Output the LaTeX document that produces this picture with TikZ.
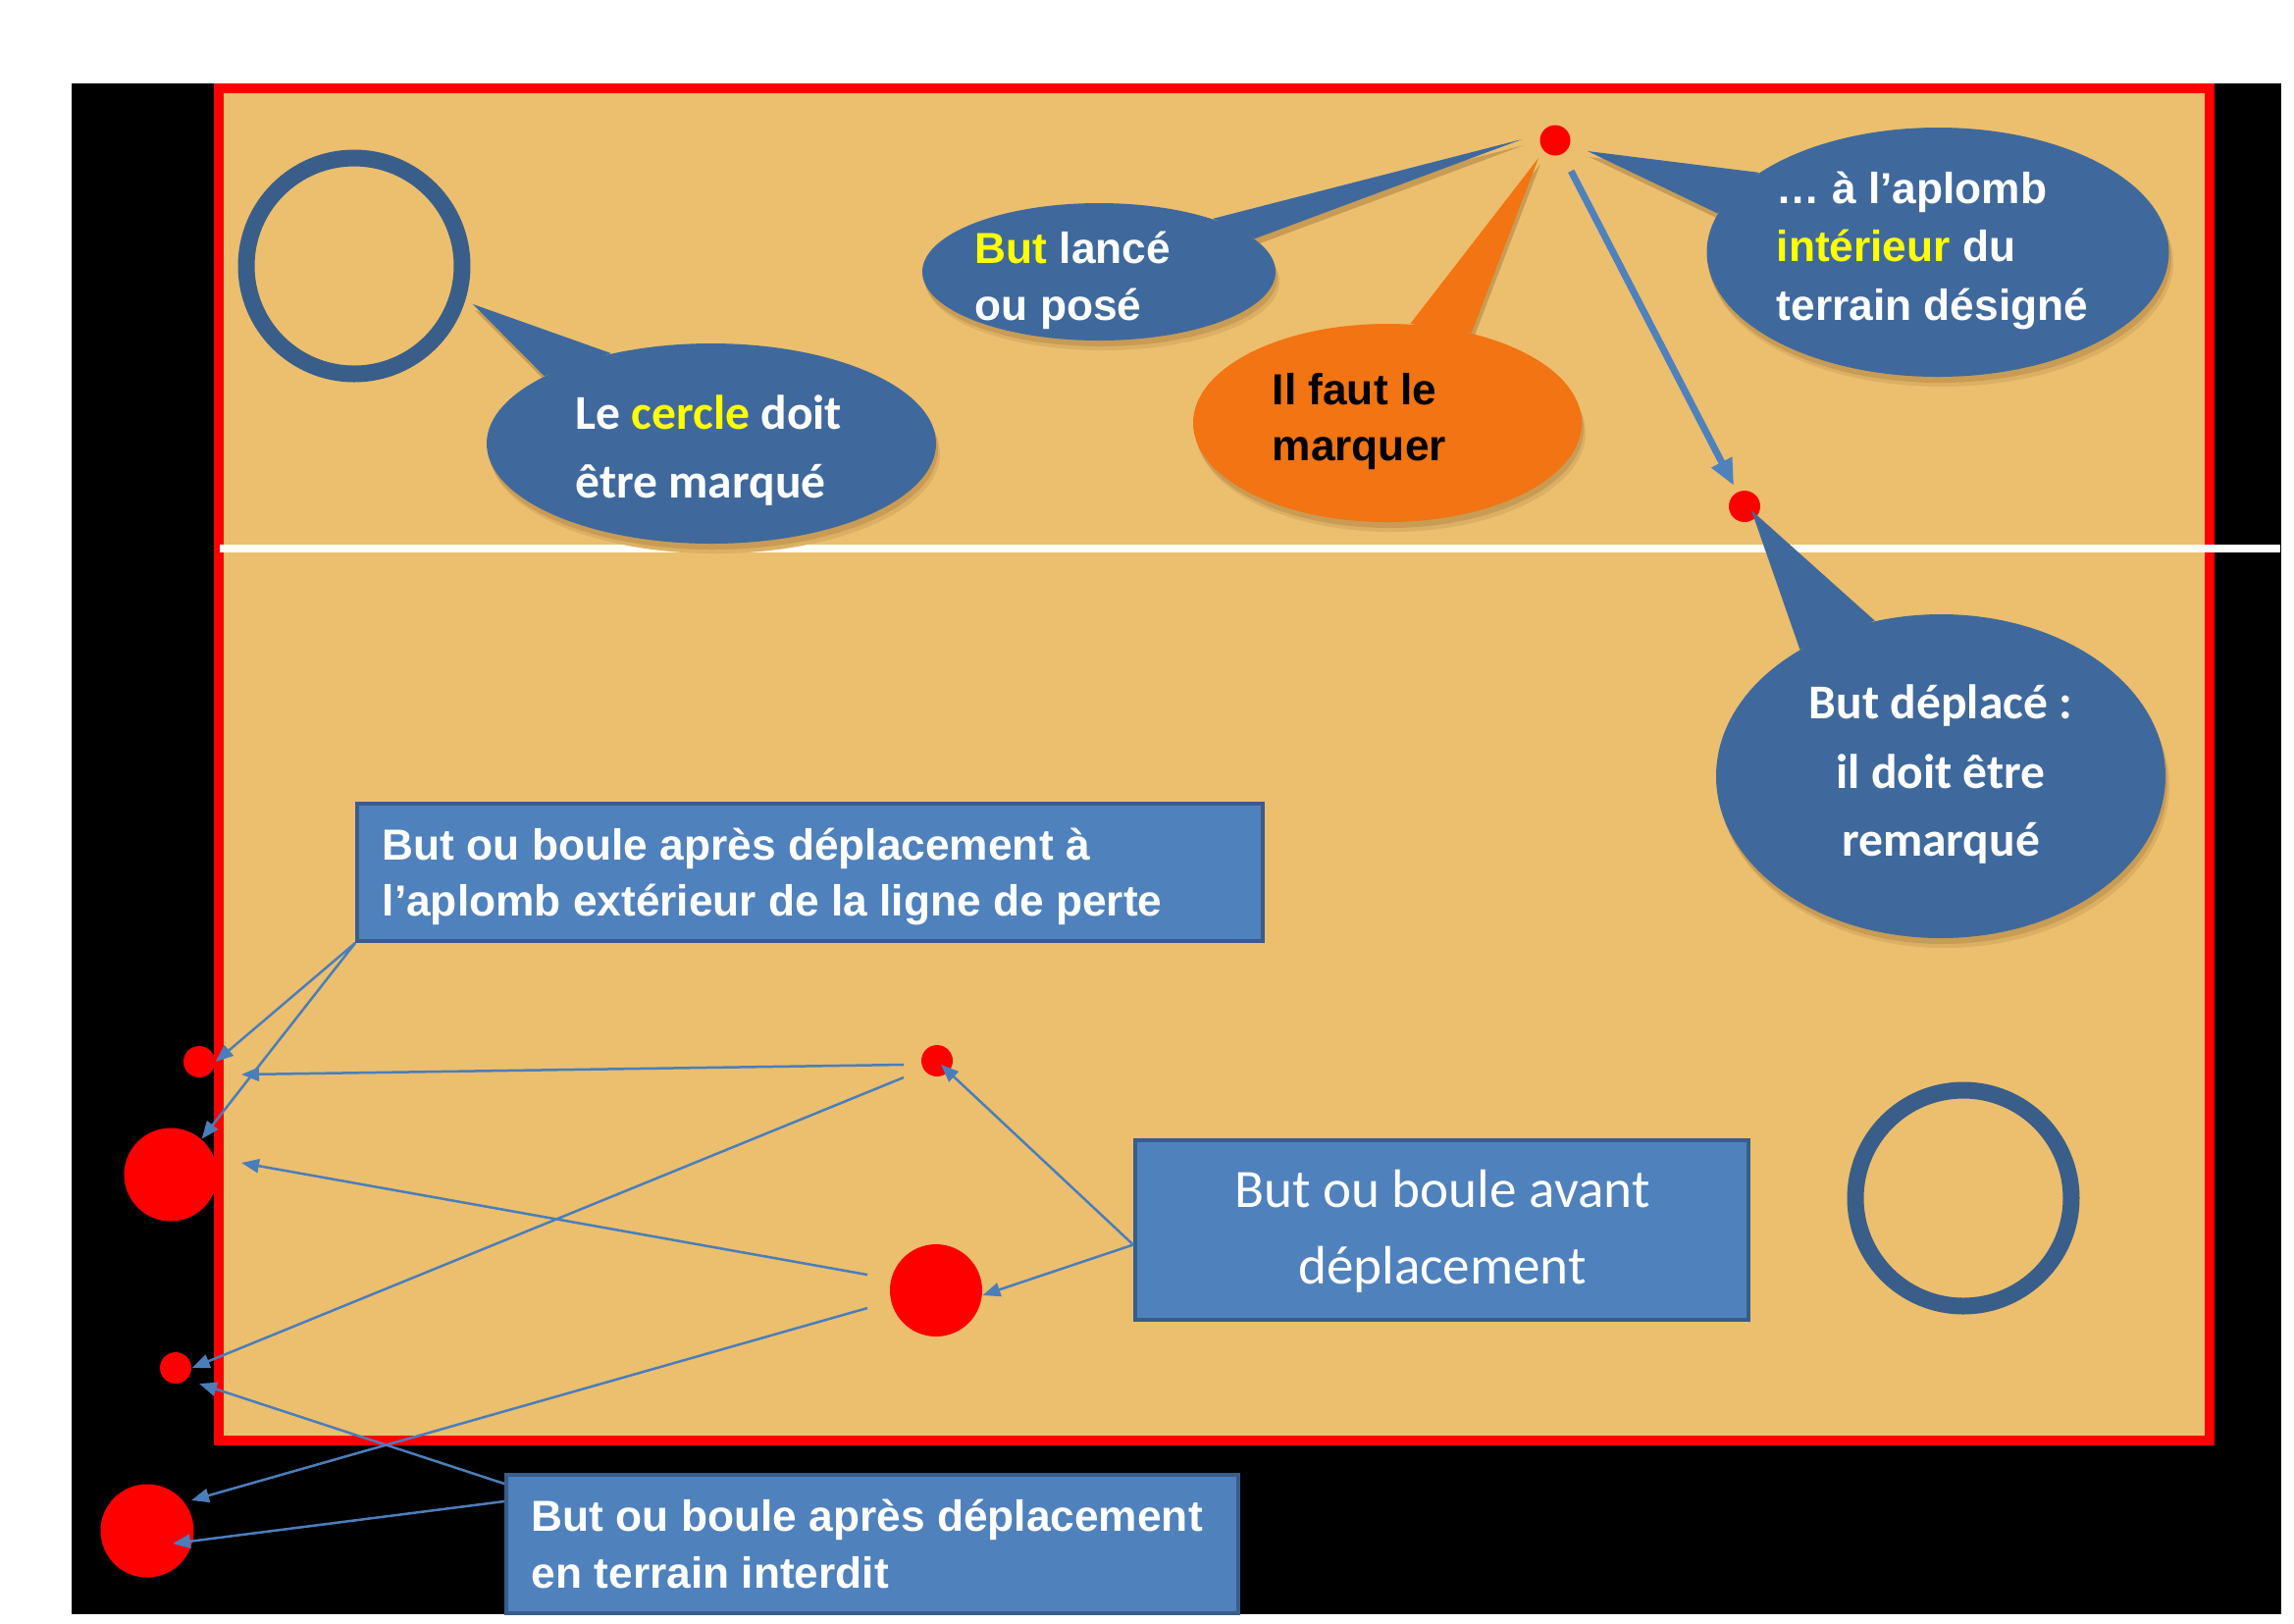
\documentclass[tikz,border=0pt]{standalone}
\usepackage{fontspec}
\usetikzlibrary{arrows.meta,shapes.geometric,calc}
\newfontfamily\calfont{Carlito}
\newfontfamily\arialfont{Liberation Sans}
\definecolor{court}{RGB}{235,191,110}
\definecolor{circ}{RGB}{58,94,138}
\definecolor{bblue}{RGB}{63,105,157}
\definecolor{borange}{RGB}{242,116,18}
\definecolor{boxblue}{RGB}{79,129,189}
\definecolor{boxedge}{RGB}{56,93,138}
\definecolor{lineblue}{RGB}{74,126,187}
\definecolor{yel}{RGB}{255,255,0}
\definecolor{shadowc}{RGB}{200,156,84}
\definecolor{shadowl}{RGB}{220,176,100}
\pgfdeclarelayer{back}
\pgfdeclarelayer{shad}
\pgfsetlayers{back,shad,main}
\begin{document}
\begin{tikzpicture}[x=0.1mm,y=-0.1mm,
  bubble/.style={ellipse, inner sep=0, draw=none},
  dot/.style={circle, fill=red, draw=none, inner sep=0, minimum size=#1},
  ring/.style={circle, draw=circ, line width=1.7mm, inner sep=0, minimum size=22mm},
  box/.style={rectangle, fill=boxblue, draw=boxedge, line width=0.4mm, inner sep=0},
  txt/.style={inner sep=0, text=white},
  ab/.style={txt, font=\arialfont\bfseries\fontsize{12.6}{16}\selectfont},
  cb/.style={txt, font=\calfont\bfseries\fontsize{14.1}{20}\selectfont},
  cr/.style={txt, font=\calfont\fontsize{15.7}{22}\selectfont},
  conn/.style={draw=lineblue, line width=0.25mm, -{Triangle[length=1.8mm,width=1.4mm]}},
  bigarr/.style={draw=boxblue, line width=0.7mm, -{Triangle[length=2.7mm,width=2.2mm]}}
]
\useasboundingbox (0,0) rectangle (2338,1654);
\begin{pgfonlayer}{back}
\fill[white] (0,0) rectangle (2338,1654);
\fill[black] (73,85) rectangle (2325,1645);
\filldraw[fill=court, draw=red, line width=1mm] (223,90) rectangle (2252,1468);
\draw[white, line width=0.8mm] (224,559) -- (2324,559);
\end{pgfonlayer}

% court circles
\node[ring] (circ1) at (361,271) {};
\node[ring] (circ2) at (2001,1221) {};

% red dots
\node[dot=3.1mm] (T1) at (1585,143) {};
\node[dot=3.2mm] (T2) at (1778,516) {};
\node[dot=3.2mm] (P1) at (203,1082) {};
\node[dot=9.5mm] (P2) at (174,1197) {};
\node[dot=3.2mm] (P3) at (179,1394) {};
\node[dot=9.5mm] (P4) at (150,1560) {};
\node[dot=3.2mm] (Q1) at (955,1081) {};
\node[dot=9.4mm] (Q2) at (954,1315) {};

% tail tips
\coordinate (tip1) at (482,310);
\coordinate (tip2) at (1551,142);
\coordinate (tip3) at (1568,161);
\coordinate (tip4) at (1618,154);
\coordinate (tip5) at (1785,520);

% bubbles
\node[bubble, fill=bblue, minimum width=45.8mm, minimum height=20.4mm] (b1) at (725,452) {};
\fill[bblue] (tip1) -- (b1.158) -- (b1.138) -- cycle;
\node[bubble, fill=bblue, minimum width=36mm, minimum height=14mm] (b2) at (1120,277) {};
\fill[bblue] (tip2) -- (b2.25) -- (b2.12) -- cycle;
\node[bubble, fill=borange, minimum width=39.6mm, minimum height=20.2mm] (b3) at (1414,431) {};
\fill[borange] (tip3) -- (b3.77) -- (b3.47) -- cycle;
\node[bubble, fill=bblue, minimum width=47.1mm, minimum height=25.4mm] (b4) at (1975,257) {};
\fill[bblue] (tip4) -- (b4.156) -- (b4.170) -- cycle;
\node[bubble, fill=bblue, minimum width=45.8mm, minimum height=33mm] (b5) at (1978,791) {};
\fill[bblue] (tip5) -- (b5.138) -- (b5.113) -- cycle;

\begin{pgfonlayer}{shad}
\foreach \b/\t/\p/\q/\rx/\ry in {b1/tip1/158/138/229/102, b2/tip2/25/12/180/70, b3/tip3/77/47/198/101, b4/tip4/156/170/236/127, b5/tip5/138/113/229/165}{
  \fill[shadowl] ([shift={(4,10)}]\b.center) ellipse [x radius=\rx, y radius=\ry];
  \fill[shadowc] ([shift={(2,6)}]\b.center) ellipse [x radius=\rx, y radius=\ry];
  \fill[shadowc] ([shift={(2,6)}]\t) -- ([shift={(2,6)}]\b.\p) -- ([shift={(2,6)}]\b.\q) -- cycle;
}
\end{pgfonlayer}

% bubble texts
\node[cb, anchor=base west] (t1a) at (586,437) {Le \textcolor{yel}{cercle} doit};
\node[cb, anchor=base west] (t1b) at (586,507) {être marqué};
\node[ab, anchor=base west] (t2a) at (993,268) {\textcolor{yel}{But} lancé};
\node[ab, anchor=base west] (t2b) at (993,326) {ou posé};
\node[ab, anchor=base west, text=black] (t3a) at (1296,412) {Il faut le};
\node[ab, anchor=base west, text=black] (t3b) at (1296,469) {marquer};
\node[ab, anchor=base west] (t4a) at (1810,207) {… à l’aplomb};
\node[ab, anchor=base west] (t4b) at (1810,266) {\textcolor{yel}{intérieur} du};
\node[ab, anchor=base west] (t4c) at (1810,326) {terrain désigné};
\node[cb, anchor=base] (t5a) at (1978,732) {But déplacé :};
\node[cb, anchor=base] (t5b) at (1978,803) {il doit être};
\node[cb, anchor=base] (t5c) at (1978,872) {remarqué};

% big arrow
\draw[bigarr, shorten <=1.9mm, shorten >=0.7mm] (T1) -- (T2);

% boxes
\node[box, minimum width=92.3mm, minimum height=14mm] (boxA) at (825.5,889) {};
\node[box, minimum width=62.5mm, minimum height=18.3mm] (boxB) at (1469.5,1253.5) {};
\node[box, minimum width=74.6mm, minimum height=14.1mm] (boxC) at (889,1573.5) {};
\node[ab, anchor=base west] (tAa) at (389,876) {But ou boule après déplacement à};
\node[ab, anchor=base west] (tAb) at (389,933) {l’aplomb extérieur de la ligne de perte};
\node[cr, anchor=base] (tBa) at (1470,1230) {But ou boule avant};
\node[cr, anchor=base] (tBb) at (1470,1308) {déplacement};
\node[ab, anchor=base west] (tCa) at (541,1560) {But ou boule après déplacement};
\node[ab, anchor=base west] (tCb) at (541,1618) {en terrain interdit};

% connectors
\coordinate (c1) at (246,1095);
\coordinate (c2) at (246,1185);
\draw[conn] (boxA.south west) -- (P1.east);
\draw[conn] (boxA.south west) -- (P2.49);
\draw[conn] ([xshift=-3.4mm,yshift=-0.4mm]Q1.center) -- (c1);
\draw[conn] ([xshift=-3.4mm,yshift=-1.7mm]Q1.center) -- (P3.east);
\draw[conn] ([xshift=-7mm,yshift=1.6mm]Q2.center) -- (c2);
\draw[conn] ([xshift=-7mm,yshift=-1.8mm]Q2.center) -- ([xshift=4.5mm,yshift=3.1mm]P4.center);
\draw[conn] ([yshift=-1.5mm]boxB.west) -- ([xshift=0.4mm,yshift=-0.4mm]Q1.center);
\draw[conn] ([yshift=-1.5mm]boxB.west) -- (Q2.-6);
\draw[conn] ([yshift=-1.1mm]boxC.north west) -- ([xshift=2.4mm,yshift=-1.6mm]P3.center);
\draw[conn] ([yshift=-2.9mm]boxC.north west) -- ([xshift=2.6mm,yshift=-1.3mm]P4.center);
\end{tikzpicture}
\end{document}
